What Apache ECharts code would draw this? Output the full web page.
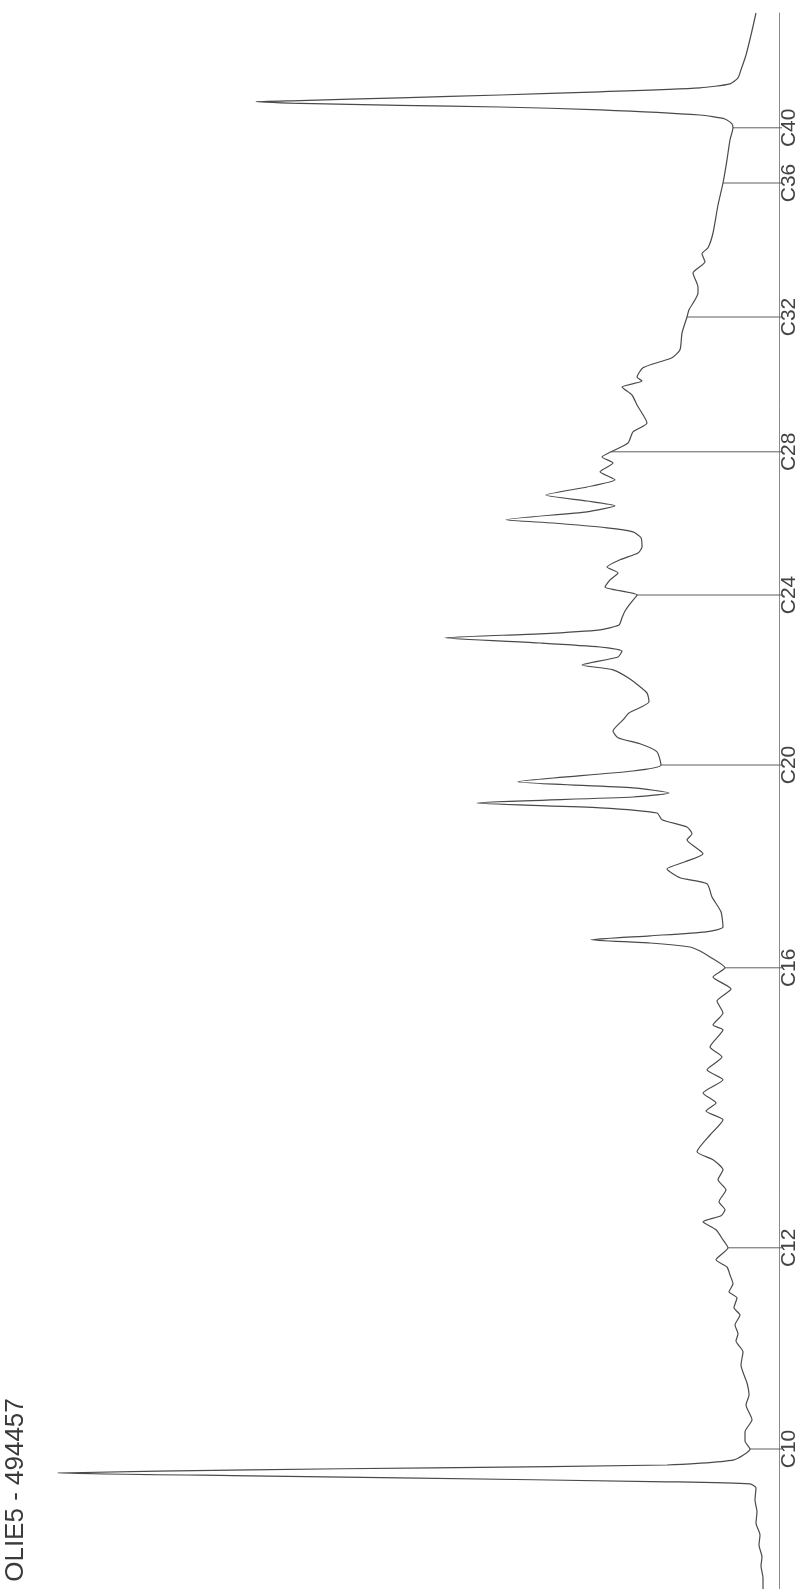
<!DOCTYPE html>
<html>
<head>
<meta charset="utf-8">
<title>OLIE5 - 494457</title>
<script src="https://cdn.jsdelivr.net/npm/echarts@6/dist/echarts.min.js"></script>
<style>
  html, body { margin: 0; padding: 0; background: #fff; }
  #chart { width: 808px; height: 1589px; }
</style>
</head>
<body>
<div id="chart"></div>
<script>
// retention time (min) and detector signal from bottom to top
const retentionTime = [
  0.00, 0.28, 0.58, 0.80, 1.10, 1.35, 1.65, 1.93, 2.23, 2.53, 2.63, 2.68, 2.78, 2.83, 2.90,
  2.98, 3.03, 3.10, 3.23, 3.50, 3.70, 3.93, 4.23, 4.60, 4.85, 5.15, 5.60, 5.93, 6.20, 6.38,
  6.60, 6.85, 7.03, 7.28, 7.43, 7.63, 7.85, 8.05, 8.23, 8.53, 8.73, 8.98, 9.18, 9.33, 9.48,
  9.68, 9.98, 10.23, 10.48, 10.73, 10.93, 11.35, 11.73, 11.95, 12.15, 12.40, 12.73, 12.98, 13.30, 13.55,
  13.98, 14.10, 14.40, 14.70, 15.00, 15.30, 15.53, 15.80, 15.95, 16.05, 16.15, 16.23, 16.33, 16.43, 16.55,
  16.93, 17.30, 17.63, 17.78, 18.00, 18.18, 18.38, 18.73, 18.88, 19.05, 19.23, 19.40, 19.53, 19.65, 19.80,
  19.90, 20.03, 20.18, 20.45, 20.60, 20.93, 21.13, 21.28, 21.45, 21.73, 21.90, 22.18, 22.40, 22.75, 22.98,
  23.10, 23.30, 23.45, 23.55, 23.65, 23.78, 23.88, 23.98, 24.10, 24.28, 24.45, 24.63, 24.85, 25.05, 25.23,
  25.40, 25.55, 25.73, 25.90, 26.05, 26.28, 26.43, 26.53, 26.65, 26.73, 26.93, 27.08, 27.20, 27.35, 27.55,
  27.73, 27.93, 28.15, 28.30, 28.43, 28.65, 28.93, 29.15, 29.60, 29.85, 30.05, 30.20, 30.30, 30.53, 30.68,
  30.78, 30.98, 31.40, 31.80, 31.98, 32.40, 32.55, 32.90, 33.18, 33.38, 33.53, 33.90, 34.60, 35.15, 35.73,
  36.23, 36.53, 36.63, 36.75, 36.85, 36.98, 37.05, 37.09, 37.14, 37.18, 37.21, 37.28, 37.35, 37.43, 37.53,
  37.63, 37.78, 37.98, 38.35, 38.85, 39.40
]
const signal = [
  16, 16, 18, 17, 20, 19, 23, 22, 24, 23, 29, 112, 379, 529, 721,
  529, 346, 112, 45, 29, 34, 34, 27, 33, 30, 32, 38, 36, 43, 41,
  44, 39, 45, 42, 50, 46, 49, 52, 63, 51, 56, 63, 76, 58, 54,
  60, 53, 61, 56, 66, 82, 69, 56, 73, 63, 76, 56, 72, 57, 69,
  56, 66, 56, 62, 48, 66, 54, 69, 79, 89, 129, 188, 129, 73, 56,
  58, 67, 72, 99, 112, 94, 76, 92, 87, 92, 117, 122, 179, 302, 146,
  110, 146, 261, 146, 118, 122, 139, 161, 166, 156, 150, 130, 132, 149, 166,
  197, 161, 157, 179, 239, 334, 239, 179, 160, 157, 154, 149, 142, 174, 169,
  161, 172, 159, 141, 137, 138, 146, 172, 226, 273, 192, 164, 192, 233, 192,
  164, 179, 166, 177, 168, 151, 146, 132, 142, 147, 157, 137, 142, 136, 119,
  107, 99, 97, 92, 90, 81, 81, 86, 74, 77, 71, 66, 61, 56, 52,
  49, 46, 47, 54, 79, 179, 279, 379, 479, 523, 479, 379, 279, 179, 79,
  49, 41, 38, 33, 28, 23
]

// n-alkane markers
const peakNames = ['C10', 'C12', 'C16', 'C20', 'C24', 'C28', 'C32', 'C36', 'C40']
const peakTimes = [3.50, 8.53, 15.53, 20.60, 24.85, 28.43, 31.80, 35.15, 36.53]
const peakLevels = [29, 51, 54, 118, 142, 168, 92, 56, 46]

const trace = retentionTime.map((t, i) => [signal[i], t])
const markers = peakTimes.map((t, i) => [peakLevels[i], t])

const myChart = echarts.init(document.getElementById('chart'))

const option = {
  animation: false,
  backgroundColor: '#fff',
  grid: { left: 49, right: 29, top: 13, bottom: 0 },
  xAxis: {
    type: 'value',
    inverse: true,
    min: 0,
    max: 730,
    show: false
  },
  yAxis: {
    type: 'value',
    position: 'right',
    min: 0,
    max: 39.4,
    axisLine: { show: true, lineStyle: { color: '#8a8a8a', width: 1 } },
    axisTick: { show: false },
    axisLabel: { show: false },
    splitLine: { show: false }
  },
  graphic: [
    {
      type: 'text',
      x: 16,
      y: 1490,
      rotation: Math.PI / 2,
      style: {
        text: 'OLIE5 - 494457',
        font: '26px "Liberation Sans", Arial, sans-serif',
        fill: '#3a3a3a',
        align: 'center',
        verticalAlign: 'middle'
      }
    }
  ],
  series: [
    {
      type: 'line',
      data: trace,
      showSymbol: false,
      smooth: 0.2,
      lineStyle: { color: '#4a4a4a', width: 1.2 },
      clip: false
    },
    {
      type: 'custom',
      data: markers,
      encode: { x: 0, y: 1 },
      clip: false,
      renderItem: function (params, api) {
        const start = api.coord([api.value(0), api.value(1)])
        const end = api.coord([0, api.value(1)])
        return {
          type: 'group',
          children: [
            {
              type: 'line',
              shape: { x1: start[0], y1: start[1], x2: end[0] + 3, y2: end[1] },
              style: { stroke: '#5e5e5e', lineWidth: 1 }
            },
            {
              type: 'text',
              x: end[0] + 10,
              y: end[1],
              rotation: Math.PI / 2,
              style: {
                text: peakNames[params.dataIndex],
                font: '21px "Liberation Sans", Arial, sans-serif',
                fill: '#444',
                align: 'center',
                verticalAlign: 'middle'
              }
            }
          ]
        }
      }
    }
  ]
}
myChart.setOption(option)
</script>
</body>
</html>
